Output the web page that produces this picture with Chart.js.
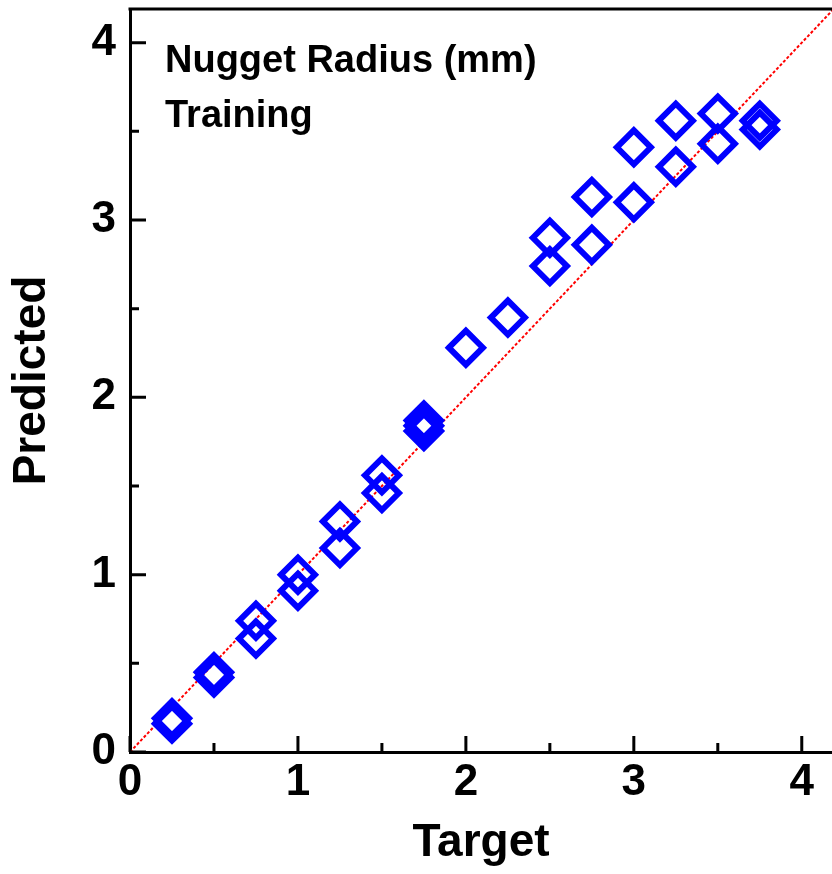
<!DOCTYPE html>
<html>
<head>
<meta charset="utf-8">
<script src="https://cdn.jsdelivr.net/npm/chart.js@4/dist/chart.umd.min.js"></script>
<style>
  html, body { margin: 0; padding: 0; background: #fff; overflow: hidden; }
  canvas { display: block; }
</style>
</head>
<body>
<canvas id="myChart" width="832" height="874"></canvas>
<script>
const targets = [0.25, 0.25, 0.5, 0.5, 0.75, 0.75, 1.0, 1.0, 1.25, 1.25, 1.5, 1.5, 1.75, 1.75, 1.75,
  2.0, 2.25, 2.5, 2.5, 2.75, 2.75, 3.0, 3.0, 3.25, 3.25, 3.5, 3.5, 3.75, 3.75];
const predicted = [0.19, 0.16, 0.45, 0.42, 0.74, 0.64, 1.00, 0.91, 1.30, 1.15, 1.56, 1.46, 1.87, 1.84, 1.81,
  2.28, 2.45, 2.90, 2.74, 3.13, 2.86, 3.41, 3.10, 3.56, 3.30, 3.60, 3.43, 3.56, 3.51];
const idealLine = [0, 4.2];
const xTicks = [0, 1, 2, 3, 4];
const yTicks = [0, 1, 2, 3, 4];
const minorTicks = [0.5, 1.5, 2.5, 3.5];
const noteLines = ["Nugget Radius (mm)", "Training"];

const canvas = document.getElementById("myChart");
const ctx = canvas.getContext('2d');
const fontFamily = "'Liberation Sans', Arial, Helvetica, sans-serif";

const scatterData = [];
for (let i = 0; i < targets.length; i++) {
  scatterData.push({x: targets[i], y: predicted[i]});
}
const lineData = idealLine.map(v => ({x: v, y: v}));

// inward tick marks, top frame line and the note text
const framePlugin = {
  id: 'frame',
  afterDraw(chart) {
    const c = chart.ctx;
    const area = chart.chartArea;
    const xs = chart.scales.x;
    const ys = chart.scales.y;
    c.save();
    c.strokeStyle = '#000';
    c.lineWidth = 3;
    c.beginPath();
    c.moveTo(area.left - 1.5, area.top);
    c.lineTo(area.right, area.top);
    xTicks.forEach(v => {
      const px = xs.getPixelForValue(v);
      c.moveTo(px, area.bottom);
      c.lineTo(px, area.bottom - 16);
    });
    minorTicks.forEach(v => {
      const px = xs.getPixelForValue(v);
      c.moveTo(px, area.bottom);
      c.lineTo(px, area.bottom - 9);
    });
    yTicks.forEach(v => {
      const py = ys.getPixelForValue(v);
      c.moveTo(area.left, py);
      c.lineTo(area.left + 16, py);
    });
    minorTicks.forEach(v => {
      const py = ys.getPixelForValue(v);
      c.moveTo(area.left, py);
      c.lineTo(area.left + 9, py);
    });
    c.stroke();

    c.fillStyle = '#000';
    c.font = "bold 38px " + fontFamily;
    c.textAlign = 'left';
    c.textBaseline = 'alphabetic';
    noteLines.forEach((t, i) => {
      c.fillText(t, area.left + 35, area.top + 63 + i * 55);
    });
    c.restore();
  }
};

function noPad(s) {
  s.paddingLeft = 0;
  s.paddingRight = 0;
  s.paddingTop = 0;
  s.paddingBottom = 0;
}

const myChart = new Chart(ctx, {
  type: 'scatter',
  data: {
    datasets: [
      {
        label: 'Training',
        data: scatterData,
        pointStyle: 'rectRot',
        pointRadius: 17,
        pointHoverRadius: 17,
        pointBorderWidth: 6,
        pointHoverBorderWidth: 6,
        pointBorderColor: '#0000ff',
        pointBackgroundColor: 'rgba(0,0,0,0)',
        borderColor: '#0000ff',
        backgroundColor: 'rgba(0,0,0,0)',
        order: 1
      },
      {
        type: 'line',
        label: 'y = x',
        data: lineData,
        borderColor: '#ff0000',
        borderWidth: 2,
        borderDash: [3, 2],
        pointRadius: 0,
        fill: false,
        order: 2
      }
    ]
  },
  options: {
    responsive: false,
    animation: false,
    layout: {autoPadding: false, padding: {top: 9, right: 0, bottom: 0, left: 0}},
    plugins: {
      legend: {display: false},
      tooltip: {enabled: false}
    },
    scales: {
      x: {
        type: 'linear',
        min: 0,
        max: 4.18,
        afterBuildTicks: s => { s.ticks = xTicks.map(v => ({value: v})); },
        afterFit: s => { s.height = 122; noPad(s); },
        ticks: {
          color: '#000',
          font: {family: fontFamily, size: 44, weight: 'bold'},
          padding: 4,
          maxRotation: 0
        },
        grid: {display: false, drawTicks: false},
        border: {display: true, color: '#000', width: 3},
        title: {
          display: true,
          text: 'Target',
          color: '#000',
          font: {family: fontFamily, size: 46, weight: 'bold'},
          padding: {top: 0, bottom: 3}
        }
      },
      y: {
        type: 'linear',
        min: 0,
        max: 4.19,
        afterBuildTicks: s => { s.ticks = yTicks.map(v => ({value: v})); },
        afterFit: s => { s.width = 130; noPad(s); },
        ticks: {
          color: '#000',
          font: {family: fontFamily, size: 44, weight: 'bold'},
          padding: 14
        },
        grid: {display: false, drawTicks: false},
        border: {display: true, color: '#000', width: 3},
        title: {
          display: true,
          text: 'Predicted',
          color: '#000',
          font: {family: fontFamily, size: 46, weight: 'bold'},
          padding: {top: 5, bottom: 0}
        }
      }
    }
  },
  plugins: [framePlugin]
});
</script>
</body>
</html>
